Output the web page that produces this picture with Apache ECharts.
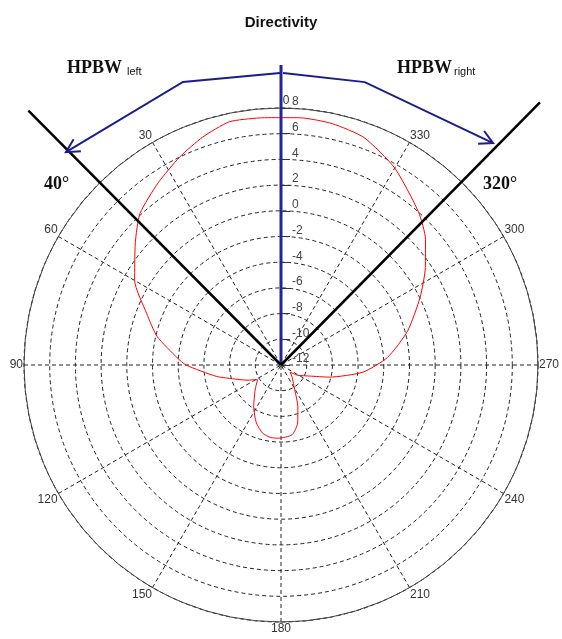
<!DOCTYPE html>
<html><head><meta charset="utf-8">
<script src="https://cdn.jsdelivr.net/npm/echarts@6/dist/echarts.min.js"></script>
<style>html,body{margin:0;padding:0;background:#fff}#c{width:562px;height:639px}</style>
</head><body><div id="c"></div>
<script>
// ---- data ----
const titleText = 'Directivity';
// radiation pattern: angle (deg, counter-clockwise from top) and gain (dB)
const patternAngles = [0,5,12,19,26,34,43,50,60,69,77,86,90,100,108,114,122,134,147,157,165,172,178,189,196,202,209,222,232,238,249,256,265,274,285,296,304,311,318,330,340,348,355,360];
const patternDb     = [7.25,7.3,7.35,6.75,6.0,5.1,4.1,2.8,1.15,-0.8,-2.1,-3.9,-4.6,-6.9,-8.4,-9.1,-9.85,-9.2,-8.1,-7.1,-6.5,-6.3,-6.3,-6.5,-7.3,-8.5,-9.8,-10.7,-11.1,-10.5,-9.6,-8.1,-5.6,-3.7,-1.8,0.05,1.55,2.9,4.0,5.7,6.85,7.2,7.3,7.25];
// radial axis (dB) and angular axis (deg)
const radiusMin = -12, radiusMax = 8, radiusStep = 2;
const angleStep = 30;
// HPBW annotation lines (angle, and the radius value where the drawn line ends)
const hpbwAngles = [44.8, 315.4];
const hpbwEnds   = [15.9, 16.7];
const hpbwLabels = ['40°', '320°'];
// boresight line
const boresightAngle = 0, boresightEnd = 11.35;
// arrows (polar points: radius value, angle)
const arrowLeftRadii   = [10.72, 11.31, 11.55];
const arrowLeftAngles  = [0.2, 19.1, 45.3];
const arrowRightRadii  = [10.72, 10.96, 11.89];
const arrowRightAngles = [359.6, 343.5, 316.3];

const chart = echarts.init(document.getElementById('c'), null, {renderer: 'canvas'});
const dash = [4, 3];
const zip = (rs, as) => rs.map((r, i) => [r, as[i]]);

const option = {
  animation: false,
  backgroundColor: '#fff',
  title: {
    text: titleText, left: 'center', top: 10,
    textStyle: {fontSize: 15, fontWeight: 'bold', fontFamily: 'Liberation Sans', color: '#111'}
  },
  polar: {center: ['50%', 365], radius: 257},
  angleAxis: {
    type: 'value', min: 0, max: 360, interval: angleStep,
    startAngle: 90, clockwise: false,
    axisLine: {lineStyle: {color: '#444', width: 1}},
    axisTick: {show: false},
    axisLabel: {margin: 1, color: '#333', fontSize: 12, fontFamily: 'Liberation Sans',
      formatter: v => (v === 360 ? '' : (v === 0 ? '{z|0}' : String(v))),
      rich: {z: {padding: [0, 0, 0, 10], fontSize: 12, color: '#333', fontFamily: 'Liberation Sans'}}},
    splitLine: {show: true, lineStyle: {color: '#222', width: 1, type: dash}}
  },
  radiusAxis: {
    type: 'value', min: radiusMin, max: radiusMax, interval: radiusStep,
    axisLine: {show: false},
    axisTick: {show: true, length: -9, lineStyle: {color: '#333'}},
    axisLabel: {margin: -11, align: 'left', verticalAlign: 'bottom', color: '#444', fontSize: 12, fontFamily: 'Liberation Sans'},
    splitLine: {show: true, lineStyle: {color: '#222', width: 1, type: dash}}
  },
  series: [
    {type: 'line', coordinateSystem: 'polar', data: zip(patternDb, patternAngles),
     symbol: 'none', smooth: 0.2, lineStyle: {color: '#ff0000', width: 1}, z: 5}
  ]
};
chart.setOption(option);

const px = (r, a) => chart.convertToPixel({seriesIndex: 0}, [r, a]);
function polyline(rs, as, color, width) {
  return {type: 'polyline', z: 90, shape: {points: rs.map((r, i) => px(r, as[i]))},
          style: {stroke: color, lineWidth: width, fill: null, lineJoin: 'miter'}};
}
function chevron(rs, as, color) {
  const n = rs.length;
  const tip = px(rs[n - 1], as[n - 1]);
  const prev = px(rs[n - 2], as[n - 2]);
  const dx = prev[0] - tip[0], dy = prev[1] - tip[1];
  const L = Math.hypot(dx, dy), ux = dx / L, uy = dy / L;
  const len = 15, h = 28 * Math.PI / 180;
  const rot = (a) => [tip[0] + len * (ux * Math.cos(a) - uy * Math.sin(a)),
                      tip[1] + len * (ux * Math.sin(a) + uy * Math.cos(a))];
  return {type: 'polyline', z: 100, shape: {points: [rot(h), tip, rot(-h)]},
          style: {stroke: color, lineWidth: 2, fill: null}};
}

const navy = '#1c1c8c';
const serif = '"Liberation Serif", "Times New Roman", serif';
const sans = '"Liberation Sans", Arial, sans-serif';
chart.setOption({
  graphic: [
    polyline([radiusMin, boresightEnd], [boresightAngle, boresightAngle], '#24249a', 3),
    polyline([radiusMin, hpbwEnds[0]], [hpbwAngles[0], hpbwAngles[0]], '#000', 2.5),
    polyline([radiusMin, hpbwEnds[1]], [hpbwAngles[1], hpbwAngles[1]], '#000', 2.5),
    polyline(arrowLeftRadii, arrowLeftAngles, navy, 2),
    polyline(arrowRightRadii, arrowRightAngles, navy, 2),
    chevron(arrowLeftRadii, arrowLeftAngles, navy),
    chevron(arrowRightRadii, arrowRightAngles, navy),
    {type: 'text', z: 100, x: 67, y: 68.5, style: {text: 'HPBW', font: 'bold 18px ' + serif, fill: '#111', align: 'left', verticalAlign: 'middle'}},
    {type: 'text', z: 100, x: 127, y: 72, style: {text: 'left', font: '11px ' + sans, fill: '#111', align: 'left', verticalAlign: 'middle'}},
    {type: 'text', z: 100, x: 397, y: 68.5, style: {text: 'HPBW', font: 'bold 18px ' + serif, fill: '#111', align: 'left', verticalAlign: 'middle'}},
    {type: 'text', z: 100, x: 454, y: 72, style: {text: 'right', font: '11px ' + sans, fill: '#111', align: 'left', verticalAlign: 'middle'}},
    {type: 'text', z: 100, x: 44, y: 184.5, style: {text: hpbwLabels[0], font: 'bold 18px ' + serif, fill: '#111', align: 'left', verticalAlign: 'middle'}},
    {type: 'text', z: 100, x: 483, y: 184.5, style: {text: hpbwLabels[1], font: 'bold 18px ' + serif, fill: '#111', align: 'left', verticalAlign: 'middle'}}
  ]
});
</script></body></html>
